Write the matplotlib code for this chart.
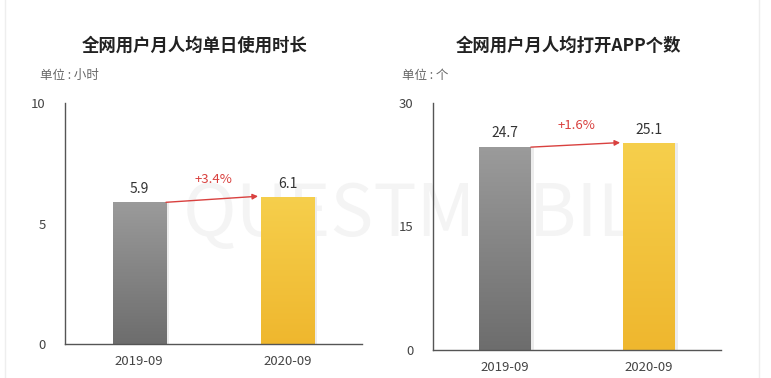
import numpy as np
import matplotlib
matplotlib.use("Agg")
import matplotlib.pyplot as plt
from matplotlib.colors import LinearSegmentedColormap

plt.rcParams['font.family'] = ['Noto Sans CJK SC', 'DejaVu Sans']

categories = ["2019-09", "2020-09"]
hours = [5.9, 6.1]
apps = [24.7, 25.1]
hours_growth = "+3.4%"
apps_growth = "+1.6%"

titles = ["全网用户月人均单日使用时长", "全网用户月人均打开APP个数"]
units = ["单位 : 小时", "单位 : 个"]
yticks_left = [0, 5, 10]
yticks_right = [0, 15, 30]

gray_cmap = LinearSegmentedColormap.from_list("g", ["#9b9b9b", "#6d6d6d"])
gold_cmap = LinearSegmentedColormap.from_list("y", ["#f6cf4c", "#efb72e"])

fig = plt.figure(figsize=(7.71, 3.78), dpi=100)
fig.patch.set_facecolor("white")

# faint watermark behind both panels
wm = fig.text(0.56, 0.43, "QUESTMOBILE", fontsize=52, color="#f4f4f4",
              ha="center", va="center", zorder=-5)

ax1 = fig.add_axes([0.0843, 0.0899, 0.3852, 0.6376], zorder=2)
ax2 = fig.add_axes([0.5616, 0.0741, 0.3734, 0.6534], zorder=2)


def draw_panel(ax, values, ymax, yticks, growth, title, unit, title_x):
    ax.set_facecolor("none")
    x = np.arange(len(categories))
    width = 0.36
    # soft shadow on the right of each bar
    ax.bar(x + 0.02, values, width=width, color="#ececec", zorder=1)
    bars = ax.bar(x, values, width=width, color="none", zorder=2)
    for b, cmap in zip(bars, [gray_cmap, gold_cmap]):
        x0, y0 = b.get_x(), b.get_y()
        grad = np.linspace(0, 1, 256).reshape(-1, 1)
        im = ax.imshow(grad, cmap=cmap, aspect="auto", zorder=2,
                       extent=[x0, x0 + b.get_width(), y0, y0 + b.get_height()],
                       origin="upper")
        im.set_clip_path(b)
    for xi, v in zip(x, values):
        ax.text(xi, v + ymax * 0.025, f"{v}", ha="center", va="bottom",
                fontsize=10, color="#333333")
    ax.annotate("", xy=(x[1] - width / 2 - 0.02, values[1] + ymax * 0.003),
                xytext=(x[0] + width / 2, values[0] - ymax * 0.002),
                arrowprops=dict(arrowstyle="-|>", color="#d9413f", lw=1.0,
                                mutation_scale=8, shrinkA=0, shrinkB=0))
    ax.text(0.5, values[1] + ymax * 0.045, growth, ha="center", va="bottom",
            fontsize=9.5, color="#d9413f")
    ax.set_xlim(-0.5, 1.5)
    ax.set_ylim(0, ymax)
    ax.set_yticks(yticks)
    ax.set_xticks(x)
    ax.set_xticklabels(categories)
    ax.tick_params(length=0, labelsize=9.5, colors="#444444")
    ax.tick_params(axis="y", pad=14)
    ax.tick_params(axis="x", pad=8)
    for s in ["top", "right"]:
        ax.spines[s].set_visible(False)
    for s in ["left", "bottom"]:
        ax.spines[s].set_color("#555555")
        ax.spines[s].set_linewidth(1.0)
    fig.text(title_x, 0.88, title, ha="center", va="center", fontsize=12.5,
             fontweight="bold", color="#222222")


draw_panel(ax1, hours, 10, yticks_left, hours_growth, titles[0], units[0], 0.253)
draw_panel(ax2, apps, 30, yticks_right, apps_growth, titles[1], units[1], 0.737)

fig.text(0.052, 0.80, units[0], ha="left", va="center", fontsize=9, color="#666666")
fig.text(0.522, 0.80, units[1], ha="left", va="center", fontsize=9, color="#666666")

# thin page borders
fig.add_artist(plt.Line2D([0.007, 0.007], [0, 1], color="#eeeeee", lw=1))
fig.add_artist(plt.Line2D([0.985, 0.985], [0, 1], color="#eeeeee", lw=1))

fig.savefig("out.png", dpi=100)
